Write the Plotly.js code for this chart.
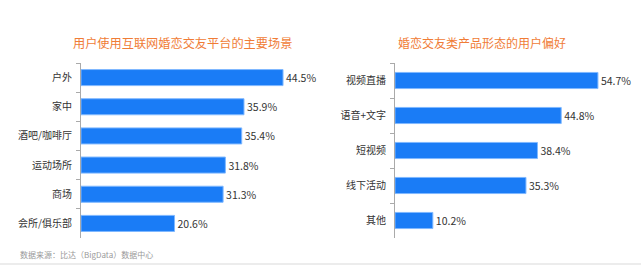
<!DOCTYPE html>
<html>
<head>
<meta charset="utf-8">
<script src="https://cdn.plot.ly/plotly-3.0.1.min.js"></script>
<style>html,body{margin:0;padding:0;background:#fff;}#chart{width:641px;height:265px;}</style>
</head>
<body>
<div id="chart"></div>
<script>
const leftTitle = "用户使用互联网婚恋交友平台的主要场景";
const leftCategories = ["户外", "家中", "酒吧/咖啡厅", "运动场所", "商场", "会所/俱乐部"];
const leftValues = [44.5, 35.9, 35.4, 31.8, 31.3, 20.6];

const rightTitle = "婚恋交友类产品形态的用户偏好";
const rightCategories = ["视频直播", "语音+文字", "短视频", "线下活动", "其他"];
const rightValues = [54.7, 44.8, 38.4, 35.3, 10.2];

const sourceNote = "数据来源：比达（BigData）数据中心";

const W = 641, H = 265;
const FONT = "'Noto Sans CJK SC', 'Noto Sans', sans-serif";
const BAR = "#1a7cf6";
const BORDER = "#7fb8ff";

function pct(v) { return v.toFixed(1) + "%"; }

const traces = [
  {
    type: "bar", orientation: "h",
    x: leftValues, y: leftCategories,
    xaxis: "x", yaxis: "y",
    width: 0.55,
    marker: {color: BAR, line: {color: BORDER, width: 1}},
    text: leftValues.map(pct), textposition: "outside", cliponaxis: false,
    textfont: {family: FONT, size: 10.5, color: "#333"},
    hoverinfo: "none"
  },
  {
    type: "bar", orientation: "h",
    x: rightValues, y: rightCategories,
    xaxis: "x2", yaxis: "y2",
    width: 0.46,
    marker: {color: BAR, line: {color: BORDER, width: 1}},
    text: rightValues.map(pct), textposition: "outside", cliponaxis: false,
    textfont: {family: FONT, size: 10.5, color: "#333"},
    hoverinfo: "none"
  }
];

const yTop = 63, yBot = 238;
const yDom = [1 - yBot / H, 1 - yTop / H];

const yCommon = {
  type: "category", autorange: "reversed",
  showline: true, linecolor: "#aaa", linewidth: 1,
  ticks: "outside", tickson: "boundaries", ticklen: 4, tickcolor: "#aaa",
  showgrid: false, zeroline: false,
  tickfont: {family: FONT, size: 10, color: "#333"},
  ticklabelstandoff: 6,
  fixedrange: true
};

const layout = {
  width: W, height: H,
  margin: {l: 0, r: 0, t: 0, b: 0},
  paper_bgcolor: "#fff", plot_bgcolor: "rgba(0,0,0,0)",
  showlegend: false,
  font: {family: FONT},
  xaxis: {domain: [81 / W, 300 / W], range: [0, 219 / 4.54], visible: false, fixedrange: true},
  yaxis: Object.assign({}, yCommon, {domain: yDom, anchor: "x"}),
  xaxis2: {domain: [395 / W, 620 / W], range: [0, 225 / 3.71], visible: false, fixedrange: true},
  yaxis2: Object.assign({}, yCommon, {domain: yDom, anchor: "x2"}),
  annotations: [
    {text: leftTitle, xref: "paper", yref: "paper", x: 182 / W, y: 1 - 43 / H,
     xanchor: "center", yanchor: "middle", showarrow: false,
     font: {family: FONT, size: 12.2, color: "#f07c36"}},
    {text: rightTitle, xref: "paper", yref: "paper", x: 482 / W, y: 1 - 43 / H,
     xanchor: "center", yanchor: "middle", showarrow: false,
     font: {family: FONT, size: 12, color: "#f07c36"}},
    {text: sourceNote, xref: "paper", yref: "paper", x: 18 / W, y: 1 - 254 / H,
     xanchor: "left", yanchor: "middle", showarrow: false,
     font: {family: FONT, size: 8, color: "#999"}}
  ],
  shapes: [
    {type: "rect", xref: "paper", yref: "paper", x0: 0, x1: 1, y0: 0, y1: 2 / H,
     fillcolor: "#ececec", line: {width: 0}}
  ]
};

Plotly.newPlot("chart", traces, layout, {displayModeBar: false, staticPlot: true});
</script>
</body>
</html>
